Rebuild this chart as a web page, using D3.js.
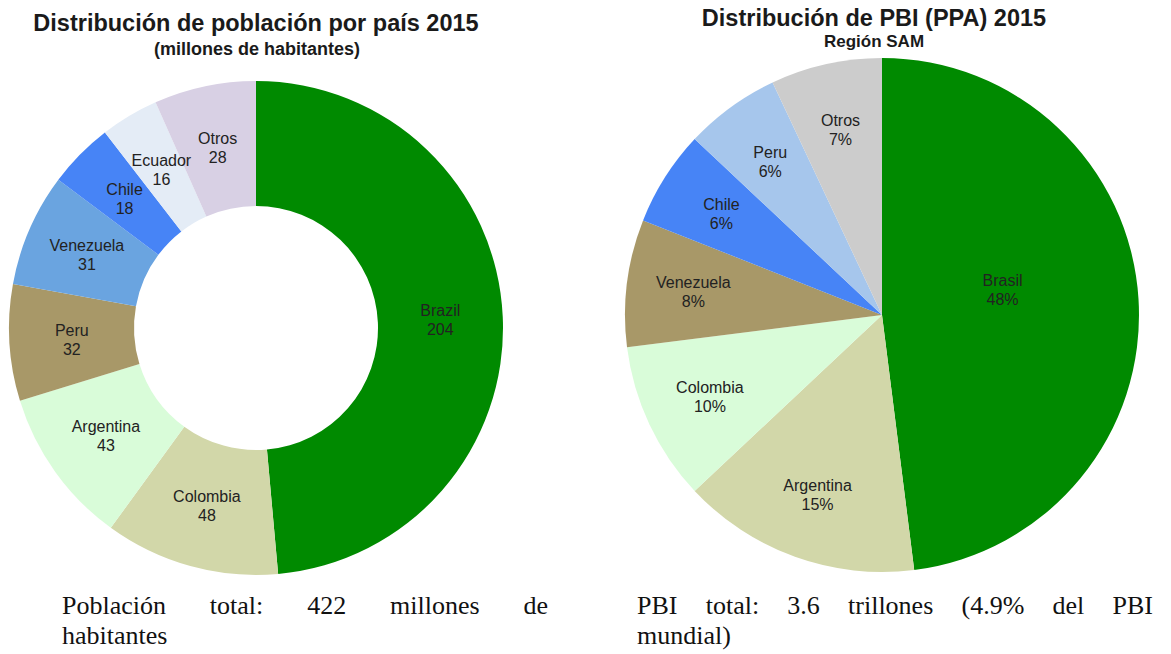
<!DOCTYPE html>
<html>
<head>
<meta charset="utf-8">
<script src="https://cdn.jsdelivr.net/npm/d3@7"></script>
<style>
  body { margin: 0; background: #fff; }
  svg { display: block; }
</style>
</head>
<body>
<svg id="chart"></svg>
<script>
// Población 2015 (millones de habitantes)
const popCountries = ['Brazil', 'Colombia', 'Argentina', 'Peru', 'Venezuela', 'Chile', 'Ecuador', 'Otros'];
const popValues = [204, 48, 43, 32, 31, 18, 16, 28];
const popColors = ['#008a00', '#d2d7a9', '#d9fcd9', '#a89868', '#6aa4e0', '#4784f6', '#e4ecf6', '#d8d0e4'];

// PBI (PPA) 2015, región SAM, %
const gdpCountries = ['Brasil', 'Argentina', 'Colombia', 'Venezuela', 'Chile', 'Peru', 'Otros'];
const gdpValues = [48, 15, 10, 8, 6, 6, 7];
const gdpColors = ['#008a00', '#d2d7a9', '#d9fcd9', '#a89868', '#4784f6', '#a6c6ec', '#cccccc'];

const footLeft = ['Población total: 422 millones de', 'habitantes'];
const footRight = ['PBI total: 3.6 trillones (4.9% del PBI', 'mundial)'];

const width = 1171, height = 654;
const svg = d3.select('#chart').attr('width', width).attr('height', height);

function drawPie(cfg) {
  const data = cfg.names.map((n, i) => ({name: n, value: cfg.values[i], color: cfg.colors[i]}));
  const pie = d3.pie().value(d => d.value).sort(null);
  const arcs = pie(data);
  const arc = d3.arc().innerRadius(cfg.inner).outerRadius(cfg.outer);

  const g = svg.append('g').attr('transform', `translate(${cfg.cx},${cfg.cy})`);

  g.selectAll('path')
    .data(arcs)
    .join('path')
    .attr('d', arc)
    .attr('fill', d => d.data.color);

  const labels = g.selectAll('g.label')
    .data(arcs)
    .join('g')
    .attr('class', 'label')
    .attr('transform', d => {
      const r = cfg.labelR(d);
      const c = d3.arc().innerRadius(r).outerRadius(r).centroid(d);
      return `translate(${c[0]},${c[1] + cfg.labelDy(d)})`;
    });

  labels.append('text')
    .attr('y', -9)
    .attr('dy', '0.35em')
    .text(d => d.data.name);
  labels.append('text')
    .attr('y', 10)
    .attr('dy', '0.35em')
    .text(d => d.data.value + cfg.suffix);

  labels.selectAll('text')
    .attr('text-anchor', 'middle')
    .style('font-family', 'Liberation Sans, Arial, sans-serif')
    .style('font-size', '16px')
    .style('fill', '#222');
}

// Left donut
drawPie({
  names: popCountries, values: popValues, colors: popColors,
  cx: 256, cy: 328, inner: 122, outer: 247, suffix: '',
  labelR: () => (122 + 247) / 2,
  labelDy: () => 0
});

// Right pie (large slice label sits higher, as in the original)
const isBig = d => (d.endAngle - d.startAngle) > Math.PI * 0.8;
drawPie({
  names: gdpCountries, values: gdpValues, colors: gdpColors,
  cx: 882, cy: 315, inner: 0, outer: 257, suffix: '%',
  labelR: d => isBig(d) ? 257 * 0.47 : 257 * 0.74,
  labelDy: d => isBig(d) ? -18 : 0
});

// Titles
function title(x, y, txt, size) {
  svg.append('text')
    .attr('x', x).attr('y', y)
    .attr('text-anchor', 'middle')
    .style('font-family', 'Liberation Sans, Arial, sans-serif')
    .style('font-weight', 'bold')
    .style('font-size', size + 'px')
    .style('fill', '#1a1a1a')
    .text(txt);
}
title(256, 31, 'Distribución de población por país 2015', 23.5);
title(257, 55, '(millones de habitantes)', 18);
title(874, 26, 'Distribución de PBI (PPA) 2015', 23.5);
title(874, 47, 'Región SAM', 17);

// Justified footnote text
function footnote(lines, x0, x1, y0) {
  const lineH = 30;
  lines.forEach((line, li) => {
    const words = line.split(' ');
    const y = y0 + li * lineH;
    const ts = words.map(w => svg.append('text')
      .attr('y', y)
      .style('font-family', 'Liberation Serif, Times New Roman, serif')
      .style('font-size', '26px')
      .style('fill', '#111')
      .text(w));
    const widths = ts.map(t => t.node().getComputedTextLength());
    const justify = li < lines.length - 1 && words.length > 1;
    const gap = justify
      ? (x1 - x0 - d3.sum(widths)) / (words.length - 1)
      : 6.5;
    let x = x0;
    ts.forEach((t, i) => { t.attr('x', x); x += widths[i] + gap; });
  });
}
footnote(footLeft, 62, 548, 614);
footnote(footRight, 637, 1153, 614);
</script>
</body>
</html>
